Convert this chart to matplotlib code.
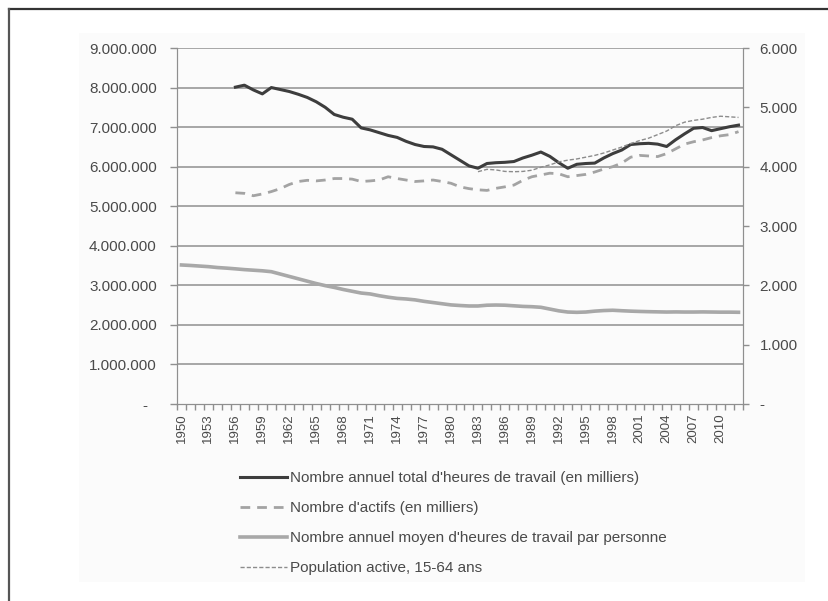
import numpy as np
import matplotlib
matplotlib.use("Agg")
import matplotlib.pyplot as plt
from matplotlib.lines import Line2D
from matplotlib.patches import Rectangle
from matplotlib.ticker import FuncFormatter, FixedLocator

plt.rcParams['font.family'] = ['Liberation Sans', 'DejaVu Sans']

# ---- data -------------------------------------------------------------
years = list(range(1950, 2013))

hours_total_years = list(range(1956, 2013))
hours_total = [
    8010000, 8060000, 7940000, 7840000, 8000000, 7950000, 7900000, 7830000,
    7750000, 7640000, 7500000, 7320000, 7250000, 7200000, 6980000, 6930000,
    6860000, 6790000, 6740000, 6640000, 6560000, 6510000, 6500000, 6440000,
    6300000, 6160000, 6020000, 5960000, 6080000, 6100000, 6110000, 6130000,
    6220000, 6290000, 6370000, 6260000, 6100000, 5960000, 6060000, 6080000,
    6090000, 6220000, 6330000, 6420000, 6560000, 6580000, 6590000, 6570000,
    6510000, 6680000, 6830000, 6970000, 6990000, 6910000, 6960000, 7010000,
    7050000,
]

workers_years = list(range(1956, 2013))
workers = [
    3560, 3550, 3510, 3540, 3580, 3630, 3700, 3750, 3770, 3760, 3775, 3800,
    3800, 3790, 3750, 3760, 3775, 3830, 3800, 3775, 3750, 3760, 3775, 3750,
    3720, 3660, 3630, 3610, 3600, 3635, 3660, 3690, 3770, 3830, 3860, 3890,
    3880, 3830, 3850, 3870, 3910, 3960, 4000, 4060, 4160, 4190, 4180, 4170,
    4220, 4300, 4380, 4420, 4450, 4490, 4520, 4540, 4590,
]

hours_per_person_years = list(range(1950, 2013))
hours_per_person = [
    2343, 2335, 2325, 2315, 2300, 2290, 2278, 2265, 2255, 2245, 2230, 2190,
    2150, 2110, 2070, 2030, 1995, 1965, 1930, 1900, 1870, 1855, 1825, 1800,
    1780, 1770, 1755, 1730, 1710, 1690, 1670, 1660, 1652, 1652, 1665, 1668,
    1665, 1655, 1645, 1640, 1630, 1600, 1570, 1550, 1545, 1550, 1565, 1575,
    1580, 1572, 1565, 1560, 1556, 1553, 1550, 1552, 1550, 1550, 1552, 1550,
    1548, 1548, 1546,
]

labour_force_years = list(range(1983, 2013))
labour_force = [
    3915, 3955, 3945, 3920, 3915, 3920, 3940, 3990, 4030, 4080, 4110, 4130,
    4160, 4190, 4230, 4280, 4330, 4390, 4440, 4480, 4540, 4600, 4690, 4750,
    4780, 4800, 4830, 4850, 4840, 4830,
]

year_labels = list(range(1950, 2013, 3))
left_ticks = list(range(0, 9000001, 1000000))
right_ticks = list(range(0, 6001, 1000))

legend_labels = [
    "Nombre annuel total d'heures de travail (en milliers)",
    "Nombre d'actifs (en milliers)",
    "Nombre annuel moyen d'heures de travail par personne",
    "Population active, 15-64 ans",
]

# ---- figure -----------------------------------------------------------
W, H = 829, 601
fig = plt.figure(figsize=(W / 100, H / 100), dpi=100)
fig.patch.set_facecolor('white')

# faint sheet behind the chart and the page frame
fig.add_artist(Rectangle((79 / W, 1 - 582 / H), (805 - 79) / W, (582 - 33) / H,
                         transform=fig.transFigure, facecolor='#fbfbfb',
                         edgecolor='none', zorder=0))
fig.add_artist(Line2D([9 / W, 1], [1 - 9 / H, 1 - 9 / H], transform=fig.transFigure,
                      color='#333333', lw=1.6))
fig.add_artist(Line2D([9 / W, 9 / W], [0, 1 - 9 / H], transform=fig.transFigure,
                      color='#555555', lw=1.6))

ax = fig.add_axes([177 / W, 1 - 404 / H, 566 / W, 356 / H])
ax.set_facecolor('none')
ax2 = ax.twinx()

grid_c = '#8f8f8f'
text_c = '#4a4a4a'

ax.set_xlim(1949.5, 2012.5)
ax.set_ylim(0, 9000000)
ax2.set_ylim(0, 6000)

for v in left_ticks[1:]:
    ax.axhline(v, color=grid_c, lw=1.1, zorder=1)

l1, = ax.plot(hours_total_years, hours_total, color='#3d3d3d', lw=2.2,
              solid_joinstyle='round', zorder=5)
l2, = ax2.plot(workers_years, workers, color='#a3a3a3', lw=2.0,
               linestyle=(0, (3.5, 2.5)), zorder=4)
l3, = ax2.plot(hours_per_person_years, hours_per_person, color='#a8a8a8',
               lw=2.6, zorder=3)
l4, = ax2.plot(labour_force_years, labour_force, color='#8c8c8c', lw=1.0,
               linestyle=(0, (3, 1.5)), zorder=4)

# axes styling
for a in (ax, ax2):
    a.spines['top'].set_visible(False)
    a.spines['left'].set_color(grid_c)
    a.spines['right'].set_color(grid_c)
    a.spines['bottom'].set_color(grid_c)

def left_fmt(v, pos):
    if v == 0:
        return '-  '
    return f"{int(v):,}".replace(',', '.')

def right_fmt(v, pos):
    if v == 0:
        return '-'
    return f"{int(v):,}".replace(',', '.')

ax.yaxis.set_major_locator(FixedLocator(left_ticks))
ax.yaxis.set_major_formatter(FuncFormatter(left_fmt))
ax.tick_params(axis='y', direction='out', length=5, width=1, color=grid_c,
               pad=9.5, labelsize=11, labelcolor=text_c)

ax2.yaxis.set_major_locator(FixedLocator(right_ticks))
ax2.yaxis.set_major_formatter(FuncFormatter(right_fmt))
ax2.tick_params(axis='y', direction='out', length=4, width=1, color=grid_c,
                pad=8, labelsize=11, labelcolor=text_c)

ax.xaxis.set_major_locator(FixedLocator(year_labels))
ax.set_xticklabels([str(y) for y in year_labels], rotation=90)
ax.xaxis.set_minor_locator(FixedLocator([y - 0.5 for y in years] + [2012.5]))
ax.tick_params(axis='x', which='major', length=0, pad=7, labelsize=9.5,
               labelcolor=text_c)
ax.tick_params(axis='x', which='minor', direction='out', length=4, width=1,
               color=grid_c)

fig.legend([l1, l2, l3, l4], legend_labels, loc='upper left',
           bbox_to_anchor=(240 / W, 1 - 471 / H), frameon=False,
           fontsize=11, handlelength=3.1, handletextpad=0.2,
           labelspacing=1.05, borderpad=0, borderaxespad=0,
           labelcolor=text_c)

fig.savefig('out.png', dpi=100)
